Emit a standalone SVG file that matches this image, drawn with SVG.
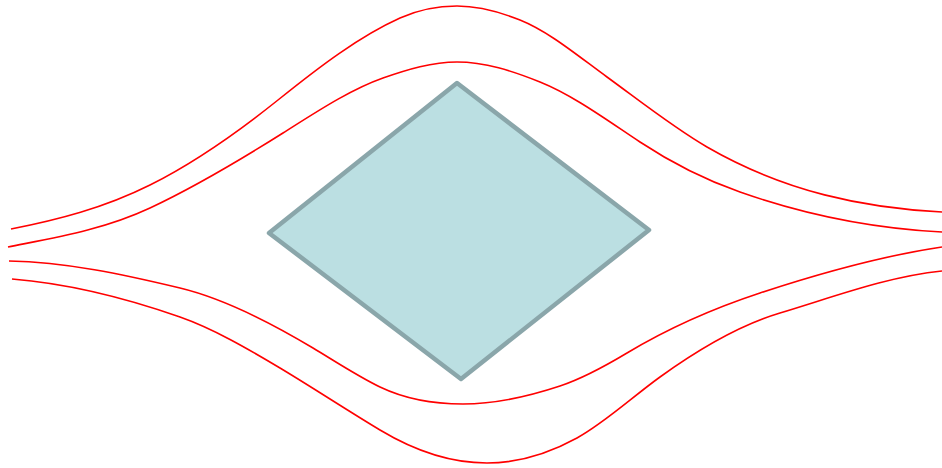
<svg xmlns="http://www.w3.org/2000/svg" width="942" height="468" viewBox="0 0 942 468">
<style>
.flow{fill:none;stroke:#ff0000;stroke-width:1.6}
.body{fill:#bbdfe2;stroke:#8aa6aa;stroke-width:4.5;stroke-linejoin:round}
</style>
<rect width="942" height="468" fill="#ffffff"/>
<g id="streamlines">
<path class="flow" d="M11,229 C57,220 104,208 150,185 C193,163.5 235,134.4 278,100 C319,67 359,36.5 400,18 C419,9.5 438,6 457,6 C478,6 499,11.6 520,20 C549,31.6 578,56 607,77 C640,101 674,128 707,147 C785,192 864,208 942,212"/>
<path class="flow" d="M8,247 C55,237.6 103,230 150,208 C194,187.3 239,160.7 283,133 C316,112.2 350,89.6 383,78 C408,69.3 432,62 457,62 C485,62 512,70.8 540,82 C573,95.2 607,120.2 640,142 C673,163.8 707,180.5 740,192 C807,215.5 875,228.6 942,232"/>
<path class="flow" d="M9,261 C66,262 123,274.3 180,288 C224,298.6 269,321.6 313,348 C335,361.2 358,376.4 380,387 C408,400.4 435,404 463,404 C495,404 528,396.6 560,386 C582,378.7 605,366.2 627,353 C671,326.6 716,307.5 760,293 C821,272.9 881,256 942,247"/>
<path class="flow" d="M12,279 C68,283.5 124,297.4 180,317 C213,328.6 247,348.2 280,368 C313,387.8 347,410.2 380,430 C416,451.6 451,463 487,463 C517,463 547,454.5 577,438 C605,422.6 632,397.2 660,377 C700,348.2 740,325 780,313 C834,296.8 888,276.4 942,271"/>
</g>
<g id="diamond">
<polygon class="body" points="457,83 649,230 461,379 269,233"/>
</g>
</svg>
